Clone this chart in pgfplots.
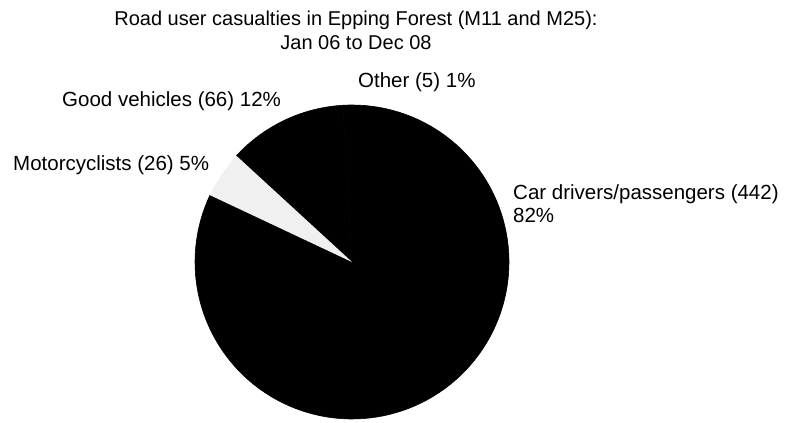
\documentclass[border=0pt]{standalone}
\usepackage{pgfplots}
\pgfplotsset{compat=1.18}
\usepackage{fontspec}
\setmainfont{Liberation Sans}
\begin{document}
\begin{tikzpicture}
\useasboundingbox (0,0) rectangle (788pt,423pt);
% data: casualties
\pgfmathsetmacro{\car}{442}
\pgfmathsetmacro{\moto}{26}
\pgfmathsetmacro{\goods}{66}
\pgfmathsetmacro{\other}{5}
\pgfmathsetmacro{\tot}{\car+\moto+\goods+\other}
% slice angles (clockwise from 12 o'clock)
\pgfmathsetmacro{\aA}{90}
\pgfmathsetmacro{\aB}{\aA-360*(\car/\tot)}
\pgfmathsetmacro{\aC}{\aB-360*(\moto/\tot)}
\pgfmathsetmacro{\aD}{\aC-360*(\goods/\tot)}
\pgfmathsetmacro{\aE}{\aD-360*(\other/\tot)}
\def\cx{352}\def\cy{161}\def\r{157}
\begin{axis}[at={(0,0)},anchor=south west,
  width=788pt,height=423pt,scale only axis,
  xmin=0,xmax=788,ymin=0,ymax=423,
  hide axis, clip=false]
\addplot[fill=black,draw=black,line width=0.6pt,line join=round,domain=\aB:\aA,samples=120]
  ({\cx+\r*cos(x)},{\cy+\r*sin(x)}) -- (\cx,\cy) -- cycle;
\addplot[fill=black,draw=black,line width=0.6pt,line join=round,domain=\aD:\aC,samples=40]
  ({\cx+\r*cos(x)},{\cy+\r*sin(x)}) -- (\cx,\cy) -- cycle;
\addplot[fill=black,draw=black,line width=0.6pt,line join=round,domain=\aE:\aD,samples=10]
  ({\cx+\r*cos(x)},{\cy+\r*sin(x)}) -- (\cx,\cy) -- cycle;
\addplot[fill=black!6,draw=none,domain=\aC:\aB,samples=20]
  ({\cx+\r*cos(x)},{\cy+\r*sin(x)}) -- (\cx,\cy) -- cycle;
\end{axis}
\begin{scope}[font=\fontsize{20}{24}\selectfont, x=1pt, y=1pt]
\node[anchor=base,inner sep=0] at (356,397) {Road user casualties in Epping Forest (M11 and M25):};
\node[anchor=base,inner sep=0] at (356,373) {Jan 06 to Dec 08};
\end{scope}
\begin{scope}[font=\fontsize{20.5}{23}\selectfont, x=1pt, y=1pt]
\node[anchor=base west,inner sep=0] at (358,335) {Other (5) 1\%};
\node[anchor=base west,inner sep=0] at (62,316) {Good vehicles (66) 12\%};
\node[anchor=base west,inner sep=0] at (13,252) {Motorcyclists (26) 5\%};
\node[anchor=base west,inner sep=0] at (513,223) {Car drivers/passengers (442)};
\node[anchor=base west,inner sep=0] at (513,200) {82\%};
\end{scope}
\end{tikzpicture}
\end{document}
